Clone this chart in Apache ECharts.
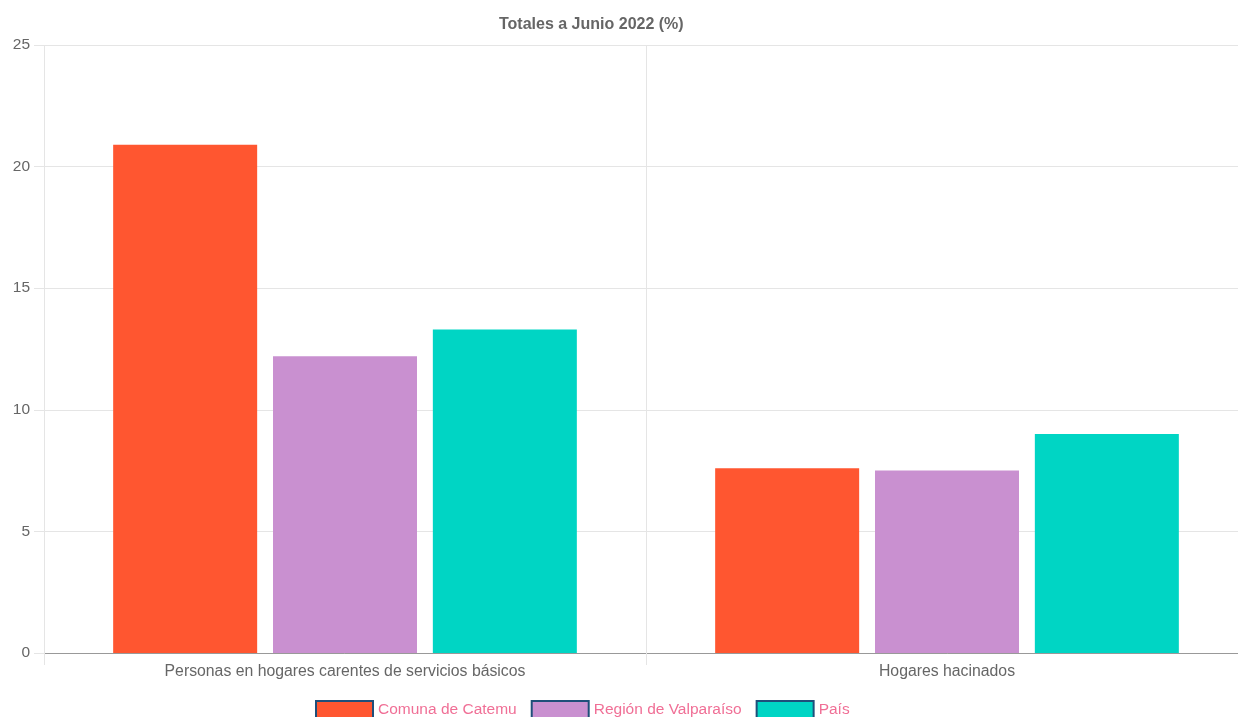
<!DOCTYPE html>
<html>
<head>
<meta charset="utf-8">
<script src="https://cdn.jsdelivr.net/npm/echarts@6/dist/echarts.min.js"></script>
<style>
html, body { margin: 0; padding: 0; background: #fff; overflow: hidden; }
#container { width: 1250px; height: 717px; }
</style>
</head>
<body>
<div id="container"></div>
<script>
// datos
var categorias = ['Personas en hogares carentes de servicios básicos', 'Hogares hacinados'];
var series_nombres = ['Comuna de Catemu', 'Región de Valparaíso', 'País'];
var catemu = [20.9, 7.6];
var valparaiso = [12.2, 7.5];
var pais = [13.3, 9.0];
var colores = ['#ff5630', '#c990d0', '#00d5c4'];
var ticks_y = [0, 5, 10, 15, 20, 25];

var dom = document.getElementById("container");
var myChart = echarts.init(dom);
var valores = [catemu, valparaiso, pais];
var series = [];
for (var i = 0; i < series_nombres.length; i++) {
	series.push({
		name: series_nombres[i],
		type: 'bar',
		barWidth: 144,
		barGap: '11%',
		data: valores[i],
		itemStyle: { color: colores[i] }
	});
}
var option = {
	animation: false,
	textStyle: { fontFamily: 'Liberation Sans, Arial, sans-serif' },
	title: {
		text: 'Totales a Junio 2022 (%)',
		left: 494,
		top: 12,
		textStyle: { fontSize: 16, fontWeight: 'bold', color: '#666' }
	},
	legend: {
		top: 700,
		left: 315,
		padding: 0,
		itemWidth: 57,
		itemHeight: 17,
		itemGap: 14,
		icon: 'rect',
		itemStyle: { borderColor: '#1f4f7a', borderWidth: 2 },
		textStyle: { color: '#f06f96', fontSize: 15.5 },
		data: series_nombres
	},
	grid: { left: 44, width: 1204, top: 45, bottom: 64, containLabel: false },
	xAxis: {
		type: 'category',
		data: categorias,
		axisLine: { lineStyle: { color: '#999' } },
		axisTick: { show: true, length: 12, lineStyle: { color: '#e5e5e5' } },
		axisLabel: { color: '#666', fontSize: 15.8, margin: 11 },
		splitLine: { show: true, lineStyle: { color: '#e5e5e5' } }
	},
	yAxis: {
		type: 'value',
		min: ticks_y[0],
		max: ticks_y[ticks_y.length - 1],
		interval: 5,
		axisLine: { show: false },
		axisTick: { show: true, length: 10, lineStyle: { color: '#e5e5e5' } },
		axisLabel: { color: '#666', fontSize: 15.5, margin: 14 },
		splitLine: { lineStyle: { color: '#e5e5e5' } }
	},
	series: series
};
myChart.setOption(option, true);
</script>
</body>
</html>
